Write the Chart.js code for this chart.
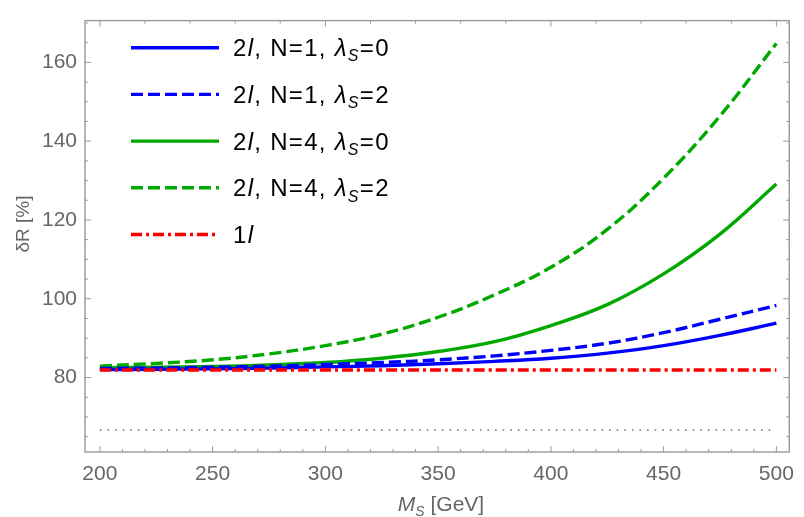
<!DOCTYPE html>
<html lang="en">
<head>
<meta charset="UTF-8" />
<title>δR vs M_S</title>
<script src="https://cdn.jsdelivr.net/npm/chart.js"></script>
<style>
  html, body { margin: 0; padding: 0; background: #fff; }
  #wrap { width: 804px; height: 517px; }
</style>
</head>
<body>
<div id="wrap"><canvas id="chart" width="804" height="517"></canvas></div>
<script>
// M_S grid (GeV) and curves (δR in %)
const msValues   = [200, 225, 250, 275, 300, 325, 350, 375, 400, 425, 450, 475, 500];
const dR_N1_l0   = [82.0, 82.1, 82.2, 82.4, 82.7, 83.0, 83.5, 84.1, 84.9, 86.2, 88.1, 90.7, 93.8];
const dR_N1_l2   = [82.3, 82.4, 82.6, 82.9, 83.3, 83.8, 84.5, 85.5, 86.9, 88.7, 91.4, 94.8, 98.3];
const dR_N4_l0   = [82.5, 82.6, 82.8, 83.2, 83.8, 84.9, 86.6, 89.1, 93.2, 98.5, 106.3, 116.4, 129.1];
const dR_N4_l2   = [82.9, 83.6, 84.5, 86.0, 88.1, 91.0, 95.3, 101.0, 108.0, 117.6, 130.6, 146.4, 164.8];
const flatX      = [200, 500];
const dR_1loop   = [81.9, 81.9];
const dR_ref     = [66.7, 66.7];

const xTicks = [200, 250, 300, 350, 400, 450, 500];
const yTicks = [80, 100, 120, 140, 160];

// legend text runs: [text, style]
const legendLabels = [
  [['2', ''], ['l', 'it'], [', N=1, ', ''], ['λ', 'it'], ['S', 'sub'], ['=0', '']],
  [['2', ''], ['l', 'it'], [', N=1, ', ''], ['λ', 'it'], ['S', 'sub'], ['=2', '']],
  [['2', ''], ['l', 'it'], [', N=4, ', ''], ['λ', 'it'], ['S', 'sub'], ['=0', '']],
  [['2', ''], ['l', 'it'], [', N=4, ', ''], ['λ', 'it'], ['S', 'sub'], ['=2', '']],
  [['1', ''], ['l', 'it']]
];

const FONT = '"Liberation Sans", Arial, sans-serif';
const BLUE = '#0000ff', GREEN = '#00a800', RED = '#ff0000';

const pts = (xs, ys) => xs.map((x, i) => ({ x: x, y: ys[i] }));

// draws a run of mixed plain / italic / subscript text, returns end x
function drawRuns(ctx, runs, x, y, size, align, spacing) {
  const fontFor = (st) => st === 'sub'
    ? 'italic ' + Math.round(size * 0.68) + 'px ' + FONT
    : (st === 'it' ? 'italic ' : '') + size + 'px ' + FONT;
  ctx.letterSpacing = (spacing || 0) + 'px';
  let total = 0;
  runs.forEach(([t, st]) => { ctx.font = fontFor(st); total += ctx.measureText(t).width; });
  let cx = align === 'center' ? x - total / 2 : x;
  ctx.textAlign = 'left';
  ctx.textBaseline = 'alphabetic';
  runs.forEach(([t, st]) => {
    ctx.font = fontFor(st);
    ctx.fillText(t, cx, st === 'sub' ? y + size * 0.22 : y);
    cx += ctx.measureText(t).width;
  });
  ctx.letterSpacing = '0px';
  return cx;
}

const framePlugin = {
  id: 'frame',
  afterDatasetsDraw(chart) {
    const { ctx, chartArea: a, scales: { x, y } } = chart;
    ctx.save();
    ctx.strokeStyle = '#999';
    ctx.lineWidth = 1.4;
    ctx.strokeRect(a.left, a.top, a.right - a.left, a.bottom - a.top);
    ctx.lineWidth = 1;
    ctx.beginPath();
    // bottom: every 10, long at 50
    for (let v = 200; v <= 500; v += 10) {
      const px = x.getPixelForValue(v);
      const len = v % 50 === 0 ? 6 : 3;
      ctx.moveTo(px, a.bottom); ctx.lineTo(px, a.bottom - len);
    }
    // top: every 20
    for (let v = 200; v <= 500; v += 20) {
      const px = x.getPixelForValue(v);
      const len = v % 100 === 0 ? 6 : 3;
      ctx.moveTo(px, a.top); ctx.lineTo(px, a.top + len);
    }
    // left / right: every 5, long at 20
    for (let v = 65; v <= 170; v += 5) {
      const py = y.getPixelForValue(v);
      const len = v % 20 === 0 ? 6 : 3;
      ctx.moveTo(a.left, py); ctx.lineTo(a.left + len, py);
      ctx.moveTo(a.right, py); ctx.lineTo(a.right - len, py);
    }
    ctx.stroke();

    // axis titles
    ctx.fillStyle = '#666';
    drawRuns(ctx, [['M', 'it'], ['S', 'sub'], [' [GeV]', '']], 441, 511, 21, 'center');
    ctx.translate(29, 224);
    ctx.rotate(-Math.PI / 2);
    ctx.font = '19px ' + FONT;
    ctx.textAlign = 'center';
    ctx.textBaseline = 'alphabetic';
    ctx.fillText('δR [%]', 0, 0);
    ctx.restore();
  }
};

const legendPlugin = {
  id: 'richLegend',
  afterDraw(chart) {
    const ctx = chart.ctx;
    ctx.save();
    const sets = chart.data.datasets.filter(d => d.legendIndex !== undefined)
      .sort((a, b) => a.legendIndex - b.legendIndex);
    sets.forEach((d, i) => {
      const cy = 47.7 + i * 46.7;
      ctx.beginPath();
      ctx.setLineDash(d.borderDash || []);
      ctx.lineCap = 'butt';
      ctx.strokeStyle = d.borderColor;
      ctx.lineWidth = d.borderWidth;
      ctx.moveTo(131, cy); ctx.lineTo(219, cy);
      ctx.stroke();
      ctx.setLineDash([]);
      ctx.fillStyle = '#000';
      drawRuns(ctx, legendLabels[d.legendIndex], 233, cy + 8.5, 24, 'left', 1.3);
    });
    ctx.restore();
  }
};

const lineStyle = { borderWidth: 3.4, pointRadius: 0, fill: false, tension: 0.4, borderCapStyle: 'butt' };

new Chart(document.getElementById('chart'), {
  type: 'line',
  data: {
    datasets: [
      Object.assign({ label: '1l', data: pts(flatX, dR_1loop), borderColor: RED, borderDash: [11, 4, 3, 4], legendIndex: 4, order: 0 }, lineStyle),
      Object.assign({ label: '2l, N=1, λS=0', data: pts(msValues, dR_N1_l0), borderColor: BLUE, legendIndex: 0, order: 1 }, lineStyle),
      Object.assign({ label: '2l, N=1, λS=2', data: pts(msValues, dR_N1_l2), borderColor: BLUE, borderDash: [12, 5], legendIndex: 1, order: 2 }, lineStyle),
      Object.assign({ label: '2l, N=4, λS=0', data: pts(msValues, dR_N4_l0), borderColor: GREEN, legendIndex: 2, order: 3 }, lineStyle),
      Object.assign({ label: '2l, N=4, λS=2', data: pts(msValues, dR_N4_l2), borderColor: GREEN, borderDash: [12, 5], legendIndex: 3, order: 4 }, lineStyle),
      { label: 'ref', data: pts(flatX, dR_ref), borderColor: '#707070', borderWidth: 1.4, borderDash: [1.6, 6], pointRadius: 0, fill: false, order: 5 }
    ]
  },
  options: {
    responsive: false,
    animation: false,
    layout: { padding: { top: 11, right: 6, left: 0, bottom: 0 } },
    plugins: { legend: { display: false }, tooltip: { enabled: false } },
    scales: {
      x: {
        type: 'linear', min: 193.4, max: 505.7,
        afterBuildTicks: s => { s.ticks = xTicks.map(v => ({ value: v })); },
        afterFit: s => { s.height = 65; },
        grid: { display: false, drawTicks: false },
        border: { display: false },
        ticks: { color: '#666', font: { family: FONT, size: 21 }, padding: 10, maxRotation: 0 }
      },
      y: {
        type: 'linear', min: 61.1, max: 170.6,
        afterBuildTicks: s => { s.ticks = yTicks.map(v => ({ value: v })); },
        afterFit: s => { s.width = 85; },
        grid: { display: false, drawTicks: false },
        border: { display: false },
        ticks: { color: '#666', font: { family: FONT, size: 21 }, padding: 8 }
      }
    }
  },
  plugins: [framePlugin, legendPlugin]
});
</script>
</body>
</html>
